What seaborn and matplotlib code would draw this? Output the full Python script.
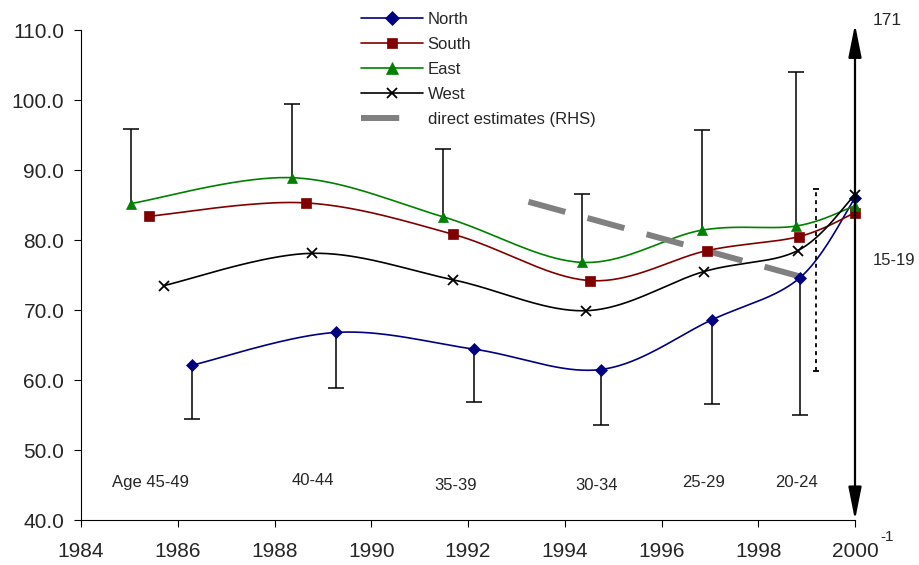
import numpy as np
import pandas as pd
import seaborn as sns
import matplotlib.pyplot as plt
from matplotlib.lines import Line2D

# Series (x = year, y = value on left axis)
regions = ['North', 'South', 'East', 'West']

north_x = [1986.29, 1989.28, 1992.13, 1994.75, 1997.04, 1998.86, 2000.0]
north_y = [62.1, 66.8, 64.4, 61.5, 68.6, 74.6, 86.0]
north_lo = [54.4, 58.8, 56.9, 53.6, 56.6, 55.0]

south_x = [1985.41, 1988.65, 1991.70, 1994.52, 1996.95, 1998.85, 2000.0]
south_y = [83.4, 85.3, 80.8, 74.2, 78.5, 80.5, 83.9]

east_x = [1985.03, 1988.37, 1991.49, 1994.35, 1996.83, 1998.79, 2000.0]
east_y = [85.2, 88.9, 83.3, 76.8, 81.4, 82.0, 84.9]
east_hi = [95.8, 99.5, 93.0, 86.6, 95.7, 104.0]

west_x = [1985.72, 1988.77, 1991.70, 1994.44, 1996.88, 1998.82, 2000.0]
west_y = [73.5, 78.1, 74.3, 69.9, 75.5, 78.5, 86.5]

# direct estimates on the right-hand axis
direct_x = [1993.25, 1999.2]
direct_y = [110.7, 82.9]
direct_err_lo = 51.4
direct_err_hi = 115.1

age_labels = ['Age 45-49', '40-44', '35-39', '30-34', '25-29', '20-24', '15-19']

colors = {'North': '#000080', 'South': '#800000', 'East': '#008000', 'West': '#000000'}
markers = {'North': 'D', 'South': 's', 'East': '^', 'West': 'x'}
msizes = {'North': 6.5, 'South': 7, 'East': 7.5, 'West': 7}


def excel_smooth(xs, ys, n=40):
    # Bezier smoothing like Excel's "smoothed line"
    p = np.column_stack([xs, ys]).astype(float)
    p = np.vstack([p[0], p, p[-1]])
    out = []
    t = np.linspace(0, 1, n)[:, None]
    for i in range(1, len(p) - 2):
        p0, p1 = p[i], p[i + 1]
        c1 = p0 + (p[i + 1] - p[i - 1]) / 6
        c2 = p1 - (p[i + 2] - p[i]) / 6
        seg = (1 - t) ** 3 * p0 + 3 * (1 - t) ** 2 * t * c1 + 3 * (1 - t) * t ** 2 * c2 + t ** 3 * p1
        out.append(seg)
    out = np.vstack(out)
    return out[:, 0], out[:, 1]


series = {'North': (north_x, north_y), 'South': (south_x, south_y),
          'East': (east_x, east_y), 'West': (west_x, west_y)}

rows = []
for r in regions:
    sx, sy = excel_smooth(*series[r])
    rows.append(pd.DataFrame({'region': r, 'year': sx, 'value': sy}))
smooth_df = pd.concat(rows, ignore_index=True)

sns.set_style('ticks')
plt.rcParams['font.family'] = ['Liberation Sans', 'DejaVu Sans']

fig = plt.figure(figsize=(9.19, 5.65), dpi=100)
ax = fig.add_axes([81 / 919, 45 / 565, 774 / 919, 490 / 565])
ax2 = ax.twinx()
ax2.set_ylim(-1, 171)
ax2.set_yticks([])
for s in ax2.spines.values():
    s.set_visible(False)

# error bars (behind the lines)
ax.vlines(east_x[:len(east_hi)], east_y[:len(east_hi)], east_hi, color='black', lw=1.1, zorder=2)
ax.plot(east_x[:len(east_hi)], east_hi, ls='none', marker='_', ms=11, mew=1.1, color='black', zorder=2)
ax.vlines(north_x[:len(north_lo)], north_lo, north_y[:len(north_lo)], color='black', lw=1.1, zorder=2)
ax.plot(north_x[:len(north_lo)], north_lo, ls='none', marker='_', ms=11, mew=1.1, color='black', zorder=2)

sns.lineplot(data=smooth_df, x='year', y='value', hue='region', palette=colors,
             estimator=None, sort=False, legend=False, lw=1.2, ax=ax, zorder=3)
for line in ax.get_lines()[-4:]:
    line.set_clip_on(False)

# direct estimates drawn through the right-hand scale
dash = (0, (6.4, 3.85))
ax.plot(direct_x, direct_y, transform=ax2.transData, color='#808080', lw=4.3,
        ls=dash, dash_capstyle='butt', zorder=3.5)
ax.plot([direct_x[-1], direct_x[-1]], [direct_err_lo, direct_err_hi], transform=ax2.transData,
        color='black', lw=1.3, ls=(0, (2.2, 2.2)), zorder=3.5)
ax.plot([direct_x[-1]] * 2, [direct_err_lo, direct_err_hi], transform=ax2.transData, ls='none',
        marker='_', ms=5, mew=1.3, color='black', zorder=3.5)

for r in regions:
    sx, sy = series[r]
    ax.plot(sx, sy, ls='none', marker=markers[r], ms=msizes[r], color=colors[r],
            mec=colors[r], mew=1.3 if r == 'West' else 0.5, clip_on=False, zorder=4)

ax.set_xlim(1984, 2000)
ax.set_ylim(40, 110)
ax.set_xticks(np.arange(1984, 2001, 2))
ax.set_yticks(np.arange(40, 111, 10))
ax.set_yticklabels([f'{v:.1f}' for v in np.arange(40, 111, 10)])
ax.set_xlabel('')
ax.set_ylabel('')
ax.tick_params(direction='out', length=5, width=0.8, labelsize=15, color='black', pad=7)
ax.tick_params(axis='x', pad=11)
for side in ['top', 'right']:
    ax.spines[side].set_visible(False)
for side in ['left', 'bottom']:
    ax.spines[side].set_linewidth(0.8)
    ax.spines[side].set_color('black')

# double-headed arrow standing in for the right axis
ax.annotate('', xy=(2000, 110.8), xytext=(2000, 40), annotation_clip=False,
            arrowprops=dict(arrowstyle='<|-|>,head_length=1.0,head_width=0.2',
                            mutation_scale=20, lw=1.6, color='black',
                            shrinkA=0, shrinkB=0), zorder=5)
ax2.annotate('171', xy=(2000, 171), xytext=(23, 7), textcoords='offset points',
             ha='center', va='center', fontsize=12.5, annotation_clip=False)
ax2.annotate('-1', xy=(2000, -1), xytext=(23, -12), textcoords='offset points',
             ha='center', va='center', fontsize=11, annotation_clip=False)

# age-group annotations
age_pos = [(1985.43, 45.4), (1988.8, 45.6), (1991.75, 45.0), (1994.65, 44.9),
           (1996.86, 45.3), (1998.8, 45.4), (2000.8, 77.1)]
for lab, (px, py) in zip(age_labels, age_pos):
    ax.text(px, py, lab, ha='center', va='center', fontsize=12, clip_on=False)

handles = [Line2D([], [], color=colors[r], marker=markers[r], ms=msizes[r] + 0.5, lw=1.2,
                  mew=1.3 if r == 'West' else 0.5) for r in regions]
handles.append(Line2D([], [], color='#808080', lw=4.3, ls=(0, (6.4, 5)), dash_capstyle='butt'))
fig.legend(handles, regions + ['direct estimates (RHS)'], loc='upper left',
           bbox_to_anchor=(361 / 919, 1 - 12 / 565), frameon=False, fontsize=12,
           borderpad=0, borderaxespad=0, handlelength=3.7, handletextpad=0.3,
           labelspacing=0.6)

fig.savefig('out.png', dpi=100)
